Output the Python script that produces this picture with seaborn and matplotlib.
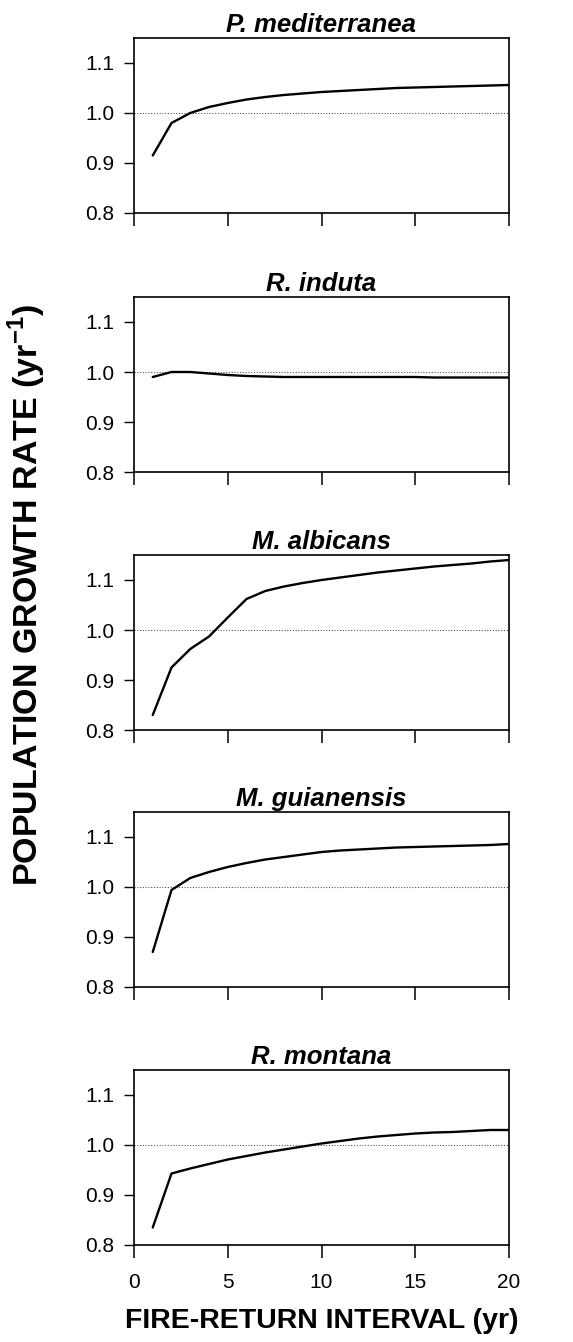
import matplotlib
matplotlib.use("Agg")
import matplotlib.pyplot as plt
import seaborn as sns
import pandas as pd

# Fire-return interval (years)
interval = list(range(1, 21))

species = ["P. mediterranea", "R. induta", "M. albicans", "M. guianensis", "R. montana"]

p_mediterranea = [0.915, 0.980, 1.000, 1.012, 1.020, 1.027, 1.032, 1.036, 1.039, 1.042,
                  1.044, 1.046, 1.048, 1.050, 1.051, 1.052, 1.053, 1.054, 1.055, 1.056]
r_induta = [0.990, 1.000, 1.000, 0.997, 0.994, 0.992, 0.991, 0.990, 0.990, 0.990,
            0.990, 0.990, 0.990, 0.990, 0.990, 0.989, 0.989, 0.989, 0.989, 0.989]
m_albicans = [0.830, 0.925, 0.962, 0.987, 1.025, 1.062, 1.078, 1.087, 1.094, 1.100,
              1.105, 1.110, 1.115, 1.119, 1.123, 1.127, 1.130, 1.133, 1.137, 1.140]
m_guianensis = [0.870, 0.994, 1.018, 1.030, 1.040, 1.048, 1.055, 1.060, 1.065, 1.070,
                1.073, 1.075, 1.077, 1.079, 1.080, 1.081, 1.082, 1.083, 1.084, 1.086]
r_montana = [0.835, 0.943, 0.953, 0.962, 0.971, 0.978, 0.985, 0.991, 0.997, 1.003,
             1.008, 1.013, 1.017, 1.020, 1.023, 1.025, 1.026, 1.028, 1.030, 1.030]

growth = [p_mediterranea, r_induta, m_albicans, m_guianensis, r_montana]

x_ticks = [0, 5, 10, 15, 20]
y_ticks = [0.8, 0.9, 1.0, 1.1]

sns.set_style("ticks")
plt.rcParams["font.family"] = ["Liberation Sans", "DejaVu Sans"]
plt.rcParams["mathtext.fontset"] = "custom"
plt.rcParams["mathtext.rm"] = "Liberation Sans"
plt.rcParams["mathtext.bf"] = "Liberation Sans:bold"
for key in ["text.color", "axes.labelcolor", "xtick.color", "ytick.color", "axes.edgecolor"]:
    plt.rcParams[key] = "black"

W, H = 573, 1342
fig = plt.figure(figsize=(W / 100, H / 100), dpi=100)

left_px, right_px = 134, 509
tops_px = [38, 297, 555, 812, 1070]
height_px = 175

for i, (name, vals) in enumerate(zip(species, growth)):
    top = tops_px[i]
    ax = fig.add_axes([left_px / W, 1 - (top + height_px) / H,
                       (right_px - left_px) / W, height_px / H])
    df = pd.DataFrame({"interval": interval, "rate": vals})
    ax.axhline(1.0, color="#555555", lw=0.8, ls=(0, (1, 1.5)), zorder=1)
    sns.lineplot(data=df, x="interval", y="rate", ax=ax, color="black", lw=1.7, zorder=3)
    ax.set_xlim(0, 20)
    ax.set_ylim(0.8, 1.15)
    ax.set_xticks(x_ticks)
    ax.set_yticks(y_ticks)
    ax.set_yticklabels([f"{v:.1f}" for v in y_ticks], fontsize=15)
    if i == len(species) - 1:
        ax.set_xticklabels([str(v) for v in x_ticks], fontsize=15)
    else:
        ax.set_xticklabels([])
    ax.tick_params(axis="x", direction="out", length=9, width=1.1, pad=11)
    ax.tick_params(axis="y", direction="out", length=7, width=1.0, pad=7)
    for s in ax.spines.values():
        s.set_visible(True)
        s.set_linewidth(1.2)
    ax.set_xlabel("")
    ax.set_ylabel("")
    ax.set_title(name, fontsize=18.5, fontweight="bold", fontstyle="italic", pad=4)

fig.text(27 / W, 1 - 595 / H, r"POPULATION GROWTH RATE (yr$^{\mathbf{-1}}$)",
         rotation=90, ha="center", va="center", fontsize=24.5, fontweight="bold")
fig.text(322 / W, 1 - 1321 / H, "FIRE-RETURN INTERVAL (yr)",
         ha="center", va="center", fontsize=20.5, fontweight="bold")

fig.savefig("out.png", dpi=100, facecolor="white")
